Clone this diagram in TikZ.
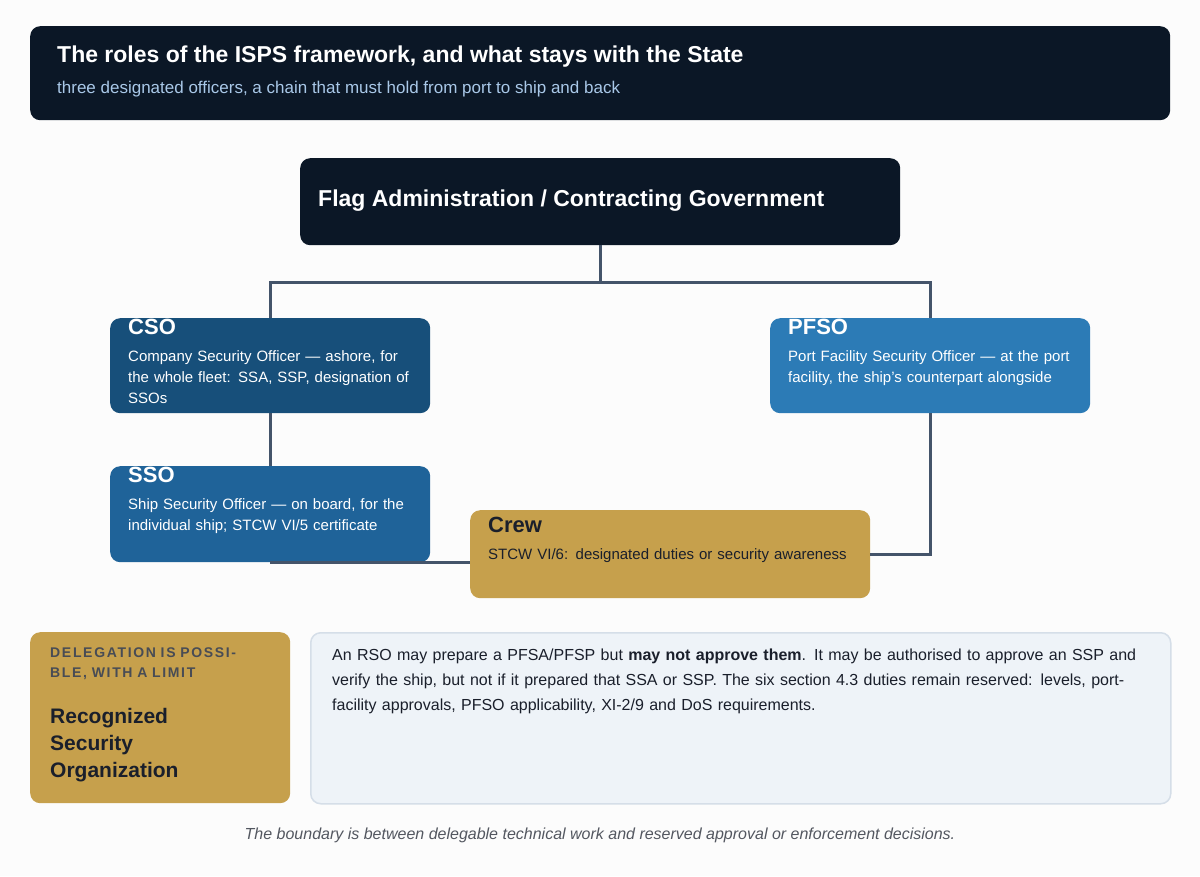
\documentclass[tikz,border=0pt]{standalone}
\usepackage{fontspec}
\setmainfont{Liberation Sans}
\usetikzlibrary{positioning}
\definecolor{navy}{HTML}{0B1726}
\definecolor{csoblue}{HTML}{174F7A}
\definecolor{ssoblue}{HTML}{1F6399}
\definecolor{pfsoblue}{HTML}{2C7BB6}
\definecolor{gold}{HTML}{C6A04C}
\definecolor{wire}{HTML}{44546A}
\definecolor{paleblue}{HTML}{EEF3F8}
\definecolor{paleedge}{HTML}{D5DEE8}
\definecolor{subtle}{HTML}{A9C8E8}
\definecolor{ink}{HTML}{1A1F2B}
\tikzset{
  box/.style={rectangle,rounded corners=10pt,anchor=north west,inner sep=0pt},
  role/.style={anchor=north west,inner sep=0pt,align=left,text=white},
  wire/.style={draw=wire,line width=3pt}
}
\begin{document}
\begin{tikzpicture}[x=1pt,y=-1pt]
\fill[white!98!gray] (0,0) rectangle (1200,876);
\useasboundingbox (0,0) rectangle (1200,876);
% header
\node[box,fill=navy,minimum width=1140pt,minimum height=94pt] (head) at (30,26) {};
\node[anchor=west,inner sep=0pt,text=white,font=\fontsize{23}{28}\selectfont\bfseries] (title) at (57,57) {The roles of the ISPS framework, and what stays with the State};
\node[anchor=west,inner sep=0pt,text=subtle,font=\fontsize{17}{21}\selectfont] (sub) at (57,89) {three designated officers, a chain that must hold from port to ship and back};

% boxes
\node[box,fill=navy,minimum width=600pt,minimum height=87pt] (flag) at (300,158) {};
\node[anchor=west,inner sep=0pt,text=white,font=\fontsize{23}{28}\selectfont\bfseries] (flagt) at (318,201) {Flag Administration / Contracting Government};
\node[box,fill=csoblue,minimum width=320pt,minimum height=95pt] (cso) at (110,318) {};
\node[box,fill=ssoblue,minimum width=320pt,minimum height=96pt] (sso) at (110,466) {};
\node[box,fill=pfsoblue,minimum width=320pt,minimum height=95pt] (pfso) at (770,318) {};

% chain
\draw[wire] (flag.south) -- ++(0,37) -| (cso.north);
\draw[wire] (flag.south) -- ++(0,37) -| (pfso.north);
\draw[wire] (cso.south) -- (sso.north);
\node[box,fill=gold,minimum width=400pt,minimum height=88pt] (crew) at (470,510) {};
\draw[wire] (sso.south) -- (sso.south -| crew.west);
\draw[wire] (pfso.south) |- (crew.east);

\node[role,font=\fontsize{22}{26}\selectfont\bfseries] (csot) at (128,319) {CSO};
\node[role,text width=290pt,font=\fontsize{15}{21}\selectfont] (csob) at (128,350) {Company Security Officer — ashore, for the whole fleet: SSA, SSP, designation of SSOs};
\node[role,font=\fontsize{22}{26}\selectfont\bfseries] (ssot) at (128,467) {SSO};
\node[role,text width=290pt,font=\fontsize{15}{21}\selectfont] (ssob) at (128,498) {Ship Security Officer — on board, for the individual ship; STCW VI/5 certificate};
\node[role,font=\fontsize{22}{26}\selectfont\bfseries] (pfsot) at (788,319) {PFSO};
\node[role,text width=290pt,font=\fontsize{15}{21}\selectfont] (pfsob) at (788,350) {Port Facility Security Officer — at the port facility, the ship's counterpart alongside};
\node[role,text=ink,font=\fontsize{22}{26}\selectfont\bfseries] (crewt) at (488,517) {Crew};
\node[role,text=ink,text width=360pt,font=\fontsize{15}{21}\selectfont] (crewb) at (488,548) {STCW VI/6: designated duties or security awareness};

% delegation
\node[box,fill=gold,minimum width=260pt,minimum height=171pt] (rso) at (30,632) {};
\node[role,text=ink!80,text width=200pt,font=\fontsize{14}{20}\selectfont\bfseries\addfontfeatures{LetterSpace=12}] (rsotag) at (50,648) {DELEGATION IS POSSIBLE, WITH A LIMIT};
\node[role,text=ink,text width=220pt,font=\fontsize{21}{27}\selectfont\bfseries] (rsot) at (50,708) {Recognized\\Security\\Organization};
\node[box,fill=paleblue,draw=paleedge,line width=1.5pt,minimum width=860pt,minimum height=171pt] (note) at (310,632) {};
\node[role,text=ink,text width=815pt,font=\fontsize{16}{25}\selectfont] (notet) at (332,649) {An RSO may prepare a PFSA/PFSP but \textbf{may not approve them}. It may be authorised to approve an SSP and verify the ship, but not if it prepared that SSA or SSP. The six section 4.3 duties remain reserved: levels, port-facility approvals, PFSO applicability, XI-2/9 and DoS requirements.};

\node[inner sep=0pt,text=ink!75,font=\fontsize{16}{20}\selectfont\itshape] (foot) at (600,835) {The boundary is between delegable technical work and reserved approval or enforcement decisions.};
\end{tikzpicture}
\end{document}
